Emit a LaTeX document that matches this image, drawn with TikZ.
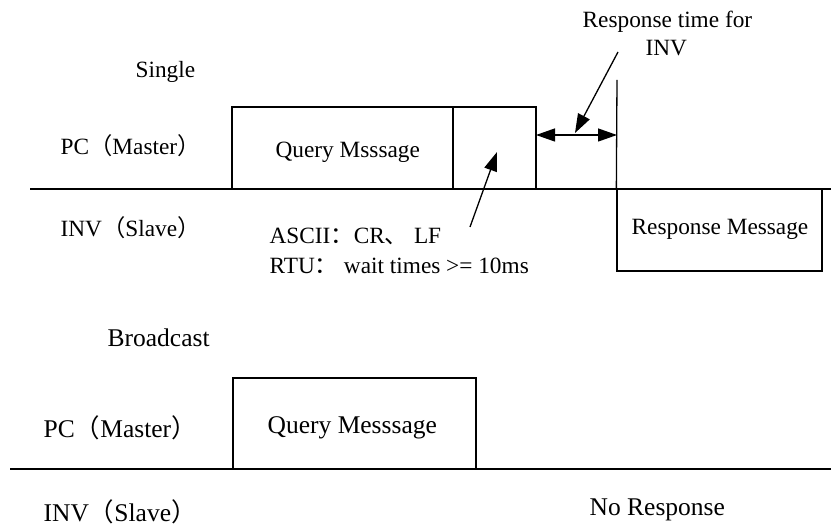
\documentclass[tikz,border=0pt]{standalone}
\usepackage{fontspec}
\setmainfont{Liberation Serif}
\newfontfamily\cjkfont{Noto Sans CJK SC}
\usetikzlibrary{arrows.meta}
\newcommand{\LP}{{\cjkfont （}}
\newcommand{\RP}{{\cjkfont ）}}
\newcommand{\CL}{{\cjkfont ：}}
\newcommand{\DN}{{\cjkfont 、}}
\begin{document}
\begin{tikzpicture}[x=1pt,y=-1pt,line width=1.3pt,
  txt/.style={inner sep=0pt,anchor=base west,font=\fontsize{23.3}{26}\selectfont},
  txtb/.style={inner sep=0pt,anchor=base west,font=\fontsize{25.5}{29}\selectfont},
  box/.style={draw,inner sep=0pt,line width=1.3pt},
  tip/.style={-{Triangle[length=19pt,width=13pt]}},
  dtip/.style={{Triangle[length=19pt,width=13pt]}-{Triangle[length=19pt,width=13pt]}}]
\useasboundingbox (0,0) rectangle (831,526);
% ---------- Single ----------
\node[txt] (single) at (135,78) {Single};
\node[txt] (pc1) at (60,155) {PC\LP Master\RP};
\node[txt] (inv1) at (60,237) {INV\LP Slave\RP};
\node[box,minimum width=221pt,minimum height=82pt] (q1) at (342.5,148) {};
\node[box,minimum width=83pt,minimum height=82pt] (q2) at (494.5,148) {};
\node[txt] (q1t) at (275,158) {Query Msssage};
\coordinate (b1l) at (30,189);
\coordinate (b1r) at (831,189);
\draw (b1l) -- (b1r);
\node[box,minimum width=205pt,minimum height=82pt] (resp) at (719.5,230) {};
\node[txt] (respt) at (631,235) {Response Message};
\coordinate (vt) at (617,80);
\draw (vt) -- (resp.north west);
\coordinate (al) at (536,135);
\coordinate (ar) at (617,135);
\draw[dtip] (al) -- (ar);
\node[txt] (rt1) at (582,28) {Response time for};
\node[txt] (rt2) at (645,56) {INV};
\coordinate (a1s) at (618,52);
\coordinate (a1e) at (575,133);
\draw[tip] (a1s) -- (a1e);
\node[txt] (ascii) at (269,244) {ASCII\CL CR\DN\ LF};
\node[txt] (rtu) at (269,274) {RTU\CL\ wait times {>}= 10ms};
\coordinate (a2s) at (470,227);
\coordinate (a2e) at (497,152);
\draw[tip] (a2s) -- (a2e);
% ---------- Broadcast ----------
\node[txtb] (bc) at (107,347) {Broadcast};
\node[txtb] (pc2) at (43,438) {PC\LP Master\RP};
\node[txtb] (inv2) at (43,522) {INV\LP Slave\RP};
\node[box,minimum width=243pt,minimum height=91pt] (q3) at (354.5,423.5) {};
\node[txtb] (q3t) at (267,434) {Query Messsage};
\coordinate (b2l) at (10,469);
\coordinate (b2r) at (831,469);
\draw (b2l) -- (b2r);
\node[txtb] (nr) at (589,516) {No Response};
\end{tikzpicture}
\end{document}
